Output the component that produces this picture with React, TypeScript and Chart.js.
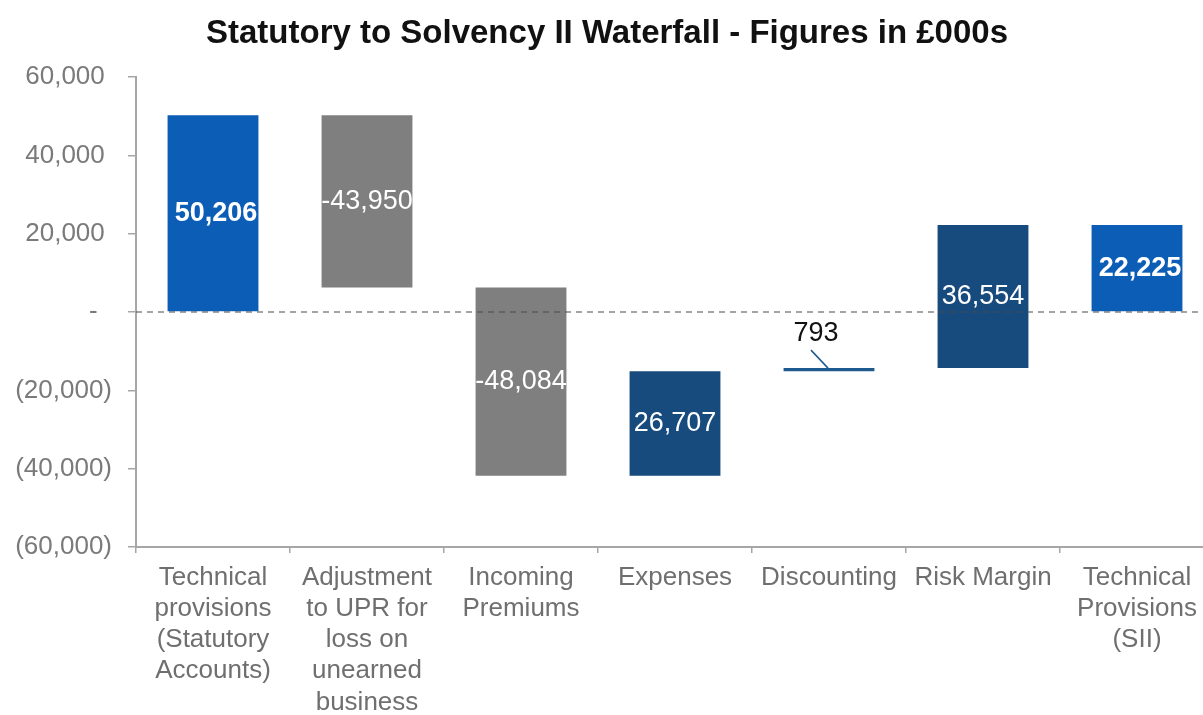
import React, { useEffect, useRef } from 'react';
import { Chart, registerables } from 'chart.js';

Chart.register(...registerables);

const FONT = '"Liberation Sans", Arial, Helvetica, sans-serif';

const chartTitle = 'Statutory to Solvency II Waterfall - Figures in £000s';

const categories: string[][] = [
  ['Technical', 'provisions', '(Statutory', 'Accounts)'],
  ['Adjustment', 'to UPR for', 'loss on', 'unearned', 'business'],
  ['Incoming', 'Premiums'],
  ['Expenses'],
  ['Discounting'],
  ['Risk Margin'],
  ['Technical', 'Provisions', '(SII)'],
];

const changes = [50206, -43950, -48084, 26707, 793, 36554, 22225];
const isTotal = [true, false, false, false, false, false, true];
const barLabels = ['50,206', '-43,950', '-48,084', '26,707', '793', '36,554', '22,225'];
const barColors = ['#0C5DB6', '#7F7F7F', '#7F7F7F', '#174A7D', '#1F5A8E', '#174A7D', '#0C5DB6'];

const yMin = -60000;
const yMax = 60000;
const yStep = 20000;

function buildRanges(): [number, number][] {
  let running = 0;
  return changes.map((v, i) => {
    if (isTotal[i]) {
      running = v;
      return [0, v] as [number, number];
    }
    const start = running;
    running += v;
    return [start, running] as [number, number];
  });
}

function fmtTick(v: number): string {
  if (v === 0) return '-  ';
  const s = Math.abs(v).toLocaleString('en-GB');
  return v < 0 ? `(${s})` : `${s} `;
}

const waterfallPlugin = {
  id: 'waterfallDecor',
  afterDatasetsDraw(chart: any) {
    const ctx = chart.ctx;
    const { left } = chart.chartArea;
    const yZero = chart.scales.y.getPixelForValue(0);
    // dashed zero line
    ctx.save();
    ctx.strokeStyle = '#4a4a4a';
    ctx.lineWidth = 1.2;
    ctx.setLineDash([6, 5]);
    ctx.beginPath();
    ctx.moveTo(left, yZero);
    ctx.lineTo(chart.width, yZero);
    ctx.stroke();
    ctx.restore();

    // bar labels
    const meta = chart.getDatasetMeta(0);
    meta.data.forEach((bar: any, i: number) => {
      const { x, y, base } = bar.getProps(['x', 'y', 'base'], true);
      const top = Math.min(y, base);
      const h = Math.abs(base - y);
      ctx.save();
      ctx.textAlign = 'center';
      ctx.textBaseline = 'middle';
      if (h < 20) {
        ctx.fillStyle = '#111111';
        ctx.font = `27px ${FONT}`;
        ctx.fillText(barLabels[i], x - 13, top - 35);
        ctx.strokeStyle = barColors[i];
        ctx.lineWidth = 1.5;
        ctx.beginPath();
        ctx.moveTo(x - 18, top - 18);
        ctx.lineTo(x - 1, top);
        ctx.stroke();
      } else {
        ctx.fillStyle = '#FFFFFF';
        ctx.font = `${isTotal[i] ? 'bold ' : ''}27px ${FONT}`;
        ctx.fillText(barLabels[i], x + (isTotal[i] ? 3 : 0), top + h / 2);
      }
      ctx.restore();
    });
  },
};

export default function App() {
  const ref = useRef<HTMLCanvasElement | null>(null);

  useEffect(() => {
    if (!ref.current) return;
    const ranges = buildRanges();
    const chart = new Chart(ref.current, {
      type: 'bar',
      data: {
        labels: categories,
        datasets: [
          {
            data: ranges as any,
            backgroundColor: barColors,
            borderWidth: 0,
            borderSkipped: false,
            categoryPercentage: 0.59,
            barPercentage: 1,
          },
        ],
      },
      options: {
        animation: false,
        responsive: false,
        maintainAspectRatio: false,
        layout: { padding: 0 },
        plugins: {
          legend: { display: false },
          tooltip: { enabled: false },
          title: {
            display: true,
            text: chartTitle,
            color: '#111111',
            font: { family: FONT, size: 33, weight: 'bold', lineHeight: 1.2 },
            padding: { top: 14, bottom: 23.4 },
          },
        },
        scales: {
          x: {
            grid: {
              drawOnChartArea: false,
              drawTicks: true,
              tickLength: 6,
              color: '#a6a6a6',
              lineWidth: 1.5,
              offset: true,
            },
            border: { display: true, color: '#a6a6a6', width: 2 },
            ticks: {
              color: '#6f6f6f',
              font: { family: FONT, size: 26, lineHeight: 1.2 },
              padding: 9,
              maxRotation: 0,
              autoSkip: false,
            },
            afterFit(scale: any) {
              scale.height = 168;
            },
          },
          y: {
            min: yMin,
            max: yMax,
            grid: {
              drawOnChartArea: false,
              drawTicks: true,
              tickLength: 8,
              color: '#a6a6a6',
              lineWidth: 1.5,
            },
            border: { display: true, color: '#a6a6a6', width: 2 },
            ticks: {
              stepSize: yStep,
              color: '#7a7a7a',
              font: { family: FONT, size: 26 },
              padding: 16,
              callback: (v: any) => fmtTick(Number(v)),
            },
            afterFit(scale: any) {
              scale.width = 136;
            },
          },
        },
      },
      plugins: [waterfallPlugin],
    });
    return () => chart.destroy();
  }, []);

  return (
    <div
      style={{
        position: 'fixed',
        left: 0,
        top: 0,
        width: 1203,
        height: 715,
        overflow: 'hidden',
        background: '#ffffff',
      }}
    >
      <canvas ref={ref} width={1214} height={715} style={{ display: 'block' }} />
    </div>
  );
}
